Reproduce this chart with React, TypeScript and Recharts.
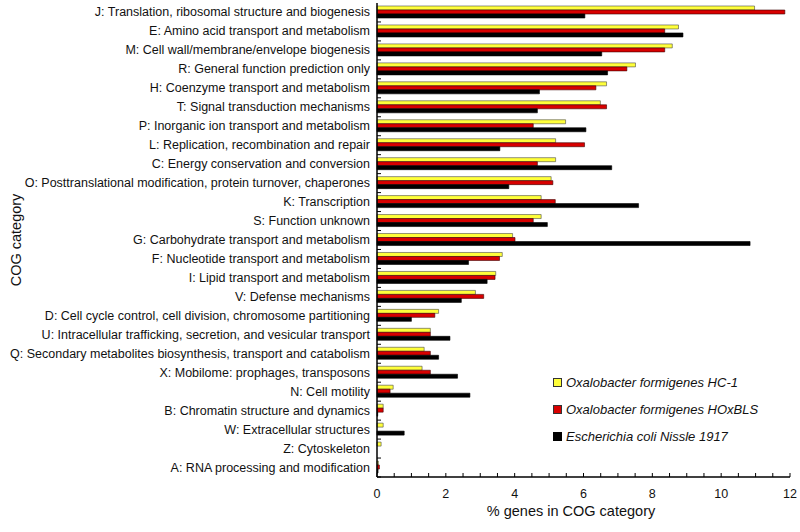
import React from 'react';
import { BarChart, Bar, XAxis, YAxis } from 'recharts';

const categories = [
  'J: Translation, ribosomal structure and biogenesis',
  'E: Amino acid transport and metabolism',
  'M: Cell wall/membrane/envelope biogenesis',
  'R: General function prediction only',
  'H: Coenzyme transport and metabolism',
  'T: Signal transduction mechanisms',
  'P: Inorganic ion transport and metabolism',
  'L: Replication, recombination and repair',
  'C: Energy conservation and conversion',
  'O: Posttranslational modification, protein turnover, chaperones',
  'K: Transcription',
  'S: Function unknown',
  'G: Carbohydrate transport and metabolism',
  'F: Nucleotide transport and metabolism',
  'I: Lipid transport and metabolism',
  'V: Defense mechanisms',
  'D: Cell cycle control, cell division, chromosome partitioning',
  'U: Intracellular trafficking, secretion, and vesicular transport',
  'Q: Secondary metabolites biosynthesis, transport and catabolism',
  'X: Mobilome: prophages, transposons',
  'N: Cell motility',
  'B: Chromatin structure and dynamics',
  'W: Extracellular structures',
  'Z: Cytoskeleton',
  'A: RNA processing and modification',
];

const hc1 = [10.97, 8.76, 8.58, 7.51, 6.67, 6.49, 5.48, 5.19, 5.19, 5.06, 4.77, 4.77, 3.94, 3.64, 3.45, 2.86, 1.79, 1.55, 1.37, 1.31, 0.47, 0.18, 0.18, 0.12, 0.04];
const hoxbls = [11.85, 8.36, 8.36, 7.26, 6.36, 6.67, 4.54, 6.03, 4.66, 5.11, 5.18, 4.54, 4.01, 3.56, 3.43, 3.10, 1.68, 1.55, 1.55, 1.55, 0.38, 0.18, 0, 0, 0.07];
const ecoli = [6.04, 8.89, 6.53, 6.70, 4.72, 4.66, 6.07, 3.57, 6.82, 3.83, 7.60, 4.95, 10.84, 2.66, 3.20, 2.45, 1.00, 2.12, 1.79, 2.34, 2.70, 0.02, 0.79, 0, 0.03];

const xTicks = [0, 0.5, 1, 1.5, 2, 2.5, 3, 3.5, 4, 4.5, 5, 5.5, 6, 6.5, 7, 7.5, 8, 8.5, 9, 9.5, 10, 10.5, 11, 11.5, 12];
const xLabels = [0, 2, 4, 6, 8, 10, 12];

const seriesNames = [
  'Oxalobacter formigenes HC-1',
  'Oxalobacter formigenes HOxBLS',
  'Escherichia coli Nissle 1917',
];
const seriesColors = ['#ffff3a', '#d80000', '#000000'];
const seriesStrokes = ['#4a4a4a', '#3a0000', '#000000'];

const data = categories.map((c, i) => ({ name: c, hc1: hc1[i], hoxbls: hoxbls[i], ecoli: ecoli[i] }));

const W = 800;
const H = 532;
const MARGIN = { top: 3, right: 10, left: 0, bottom: 5 };
const X_AXIS_H = 50;
const Y_AXIS_W = 377;
const PLOT_H = H - MARGIN.top - MARGIN.bottom - X_AXIS_H;
const HALF_BAND = PLOT_H / categories.length / 2;
const FONT = '"Liberation Sans", Arial, sans-serif';

const YTick = (props: any) => {
  const { x, y, payload } = props;
  return (
    <g>
      <line x1={x} x2={x + 4} y1={y + HALF_BAND} y2={y + HALF_BAND} stroke="#000" strokeWidth={1} />
      <text x={x - 7} y={y} dy={4} textAnchor="end" fontSize={12.5} fontFamily={FONT} fill="#111">
        {payload.value}
      </text>
    </g>
  );
};

const XTick = (props: any) => {
  const { x, y, payload } = props;
  const showLabel = xLabels.includes(payload.value);
  return (
    <g>
      <line x1={x} x2={x} y1={y - 4} y2={y} stroke="#000" strokeWidth={1} />
      {showLabel && (
        <text x={x} y={y + 21} textAnchor="middle" fontSize={12.5} fontFamily={FONT} fill="#111">
          {payload.value}
        </text>
      )}
    </g>
  );
};

const LegendBox = () => (
  <div
    style={{
      position: 'absolute',
      left: 553,
      top: 369,
      fontFamily: FONT,
      fontStyle: 'italic',
      fontSize: 13,
      color: '#111',
    }}
  >
    {seriesNames.map((n, i) => (
      <div key={n} style={{ display: 'flex', alignItems: 'center', height: 27, whiteSpace: 'nowrap' }}>
        <span
          style={{
            display: 'inline-block',
            width: 7,
            height: 7,
            background: seriesColors[i],
            border: `1px solid ${i === 2 ? '#000' : '#333'}`,
            marginRight: 4,
          }}
        />
        <span>{n}</span>
      </div>
    ))}
  </div>
);

export default function App() {
  return (
    <div style={{ position: 'absolute', left: 0, top: 0, width: W, height: H, background: '#fff' }}>
      <BarChart
        width={W}
        height={H}
        data={data}
        layout="vertical"
        margin={MARGIN}
        barCategoryGap={3}
        barGap={0}
      >
        <XAxis
          type="number"
          domain={[0, 12]}
          ticks={xTicks}
          interval={0}
          height={X_AXIS_H}
          tickSize={0}
          tickMargin={0}
          tickLine={false}
          tick={<XTick />}
          axisLine={{ stroke: '#000', strokeWidth: 1.5 }}
          label={{
            content: (p: any) => {
              const vb = p.viewBox;
              return (
                <text x={571} y={vb.y + 39} textAnchor="middle" fontSize={14.5} fontFamily={FONT} fill="#111">
                  % genes in COG category
                </text>
              );
            },
          }}
        />
        <YAxis
          type="category"
          dataKey="name"
          width={Y_AXIS_W}
          interval={0}
          tickSize={0}
          tickMargin={0}
          tickLine={false}
          tick={<YTick />}
          axisLine={{ stroke: '#000', strokeWidth: 1.5 }}
          label={{
            content: (p: any) => {
              const vb = p.viewBox;
              const cy = vb.y + vb.height / 2;
              return (
                <text
                  x={21}
                  y={cy}
                  transform={`rotate(-90, 21, ${cy})`}
                  textAnchor="middle"
                  fontSize={14.5}
                  fontFamily={FONT}
                  fill="#111"
                >
                  COG category
                </text>
              );
            },
          }}
        />
        <Bar dataKey="hc1" name={seriesNames[0]} fill={seriesColors[0]} stroke={seriesStrokes[0]} strokeWidth={0.6} isAnimationActive={false} />
        <Bar dataKey="hoxbls" name={seriesNames[1]} fill={seriesColors[1]} stroke={seriesStrokes[1]} strokeWidth={0.6} isAnimationActive={false} />
        <Bar dataKey="ecoli" name={seriesNames[2]} fill={seriesColors[2]} stroke={seriesStrokes[2]} strokeWidth={0.6} isAnimationActive={false} />
      </BarChart>
      <LegendBox />
    </div>
  );
}
